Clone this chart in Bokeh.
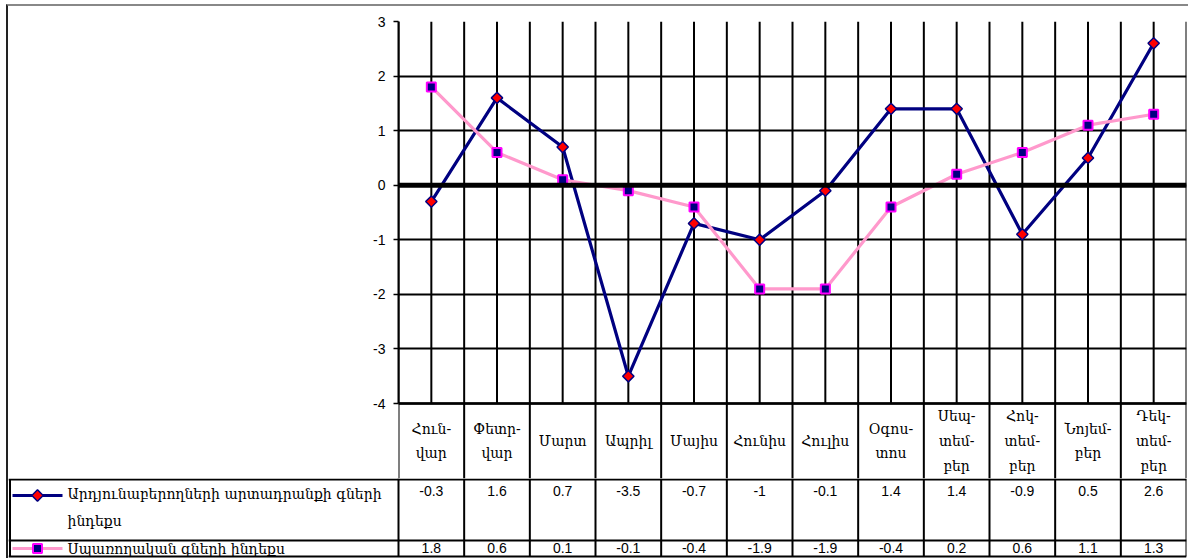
from bokeh.plotting import figure
from bokeh.models import Range1d, FixedTicker, Span, ColumnDataSource, PrintfTickFormatter
from bokeh.layouts import column, row
from bokeh.embed import file_html
from bokeh.resources import INLINE
from bokeh.core.properties import value
import numpy as np

# ---------------- data ----------------
months = ["Հուն-\nվար", "Փետր-\nվար", "Մարտ", "Ապրիլ", "Մայիս", "Հունիս",
          "Հուլիս", "Օգոս-\nտոս", "Սեպ-\nտեմ-\nբեր", "Հոկ-\nտեմ-\nբեր",
          "Նոյեմ-\nբեր", "Դեկ-\nտեմ-\nբեր"]
producer_idx = [-0.3, 1.6, 0.7, -3.5, -0.7, -1, -0.1, 1.4, 1.4, -0.9, 0.5, 2.6]
consumer_idx = [1.8, 0.6, 0.1, -0.1, -0.4, -1.9, -1.9, -0.4, 0.2, 0.6, 1.1, 1.3]
series_names = ["Արդյունաբերողների արտադրանքի գների\nինդեքս",
                "Սպառողական գների ինդեքս"]
y_ticks = [-4, -3, -2, -1, 0, 1, 2, 3]

# ---------------- layout constants (page pixels) ----------------
OX, OY, B = 6, 4, 2          # outer border position and width
CX, CY = OX + B, OY + B      # content origin
PAGE_W = 1188
FRAME_L, FRAME_R, FRAME_T, FRAME_B = 398, 1186, 21, 403
HEAD_B, ROW2_B, ROW3_B = 478, 540, 556
n = len(months)
W = PAGE_W - CX
UNIT = (FRAME_R - FRAME_L) / n
PX_Y = (FRAME_B - FRAME_T) / (max(y_ticks) - min(y_ticks))
Y_LOW = max(y_ticks) - (HEAD_B - FRAME_T) / PX_Y
NAVY = "#000080"
PINK = "#FF99CC"
MAGENTA = "#FF00FF"
SERIF = value("DejaVu Serif")
SANS = value("Liberation Sans")
GW = 2.0


def yv(page_y):
    return max(y_ticks) - (page_y - FRAME_T) / PX_Y


def px(page_x):
    return (page_x - FRAME_L) / UNIT


xs = [i + 0.5 for i in range(n)]
src = ColumnDataSource(dict(x=xs, m=months, a=producer_idx, b=consumer_idx,
                            at=[f"{v:g}" for v in producer_idx],
                            bt=[f"{v:g}" for v in consumer_idx]))

# ---------------- chart (with header row of the table) ----------------
p = figure(width=W, height=HEAD_B - CY, x_range=Range1d(0, n),
           y_range=Range1d(Y_LOW, max(y_ticks)),
           output_backend="svg", toolbar_location=None,
           min_border_left=FRAME_L - CX, min_border_right=PAGE_W - FRAME_R,
           min_border_top=FRAME_T - CY, min_border_bottom=0,
           x_axis_location=None, outline_line_color=None)
p.xgrid.visible = False
p.ygrid.grid_line_color = "black"
p.ygrid.grid_line_width = GW
p.ygrid.ticker = FixedTicker(ticks=y_ticks)
borders = list(range(n + 1))
p.segment(x0=borders, y0=[Y_LOW] * len(borders), x1=borders,
          y1=[max(y_ticks)] * len(borders), line_color="black", line_width=GW)
p.segment(x0=xs, y0=[min(y_ticks)] * n, x1=xs, y1=[max(y_ticks)] * n,
          line_color="black", line_width=GW)
p.yaxis.ticker = FixedTicker(ticks=y_ticks)
p.yaxis.formatter = PrintfTickFormatter(format="%d")
p.yaxis.bounds = (min(y_ticks), max(y_ticks))
p.yaxis.axis_line_width = 2
p.yaxis.axis_line_color = "black"
p.yaxis.major_tick_out = 5
p.yaxis.major_tick_in = 0
p.yaxis.major_tick_line_width = 1.5
p.yaxis.minor_tick_line_color = None
p.yaxis.major_label_text_font = "Liberation Sans"
p.yaxis.major_label_text_font_size = "14px"
p.yaxis.major_label_text_color = "black"
p.yaxis.major_label_standoff = 8
p.add_layout(Span(location=0, dimension="width", line_color="black", line_width=5))
p.add_layout(Span(location=min(y_ticks), dimension="width", line_color="black", line_width=2.5))

p.text(x="x", y=yv(440.5), text="m", source=src, text_font=SERIF,
       text_font_size="14px", text_align="center", text_baseline="middle",
       text_line_height=1.55, text_color="black")

p.line("x", "a", source=src, line_color=NAVY, line_width=3.2)
p.scatter("x", "a", source=src, marker="square", angle=np.pi / 4, size=8,
          fill_color="red", line_color=NAVY, line_width=1.5)
p.line("x", "b", source=src, line_color=PINK, line_width=3.2)
p.scatter("x", "b", source=src, marker="square", size=9,
          fill_color=NAVY, line_color=MAGENTA, line_width=2)

# ---------------- value rows of the table ----------------
TH = 558 - HEAD_B
X0 = -(FRAME_L - CX) / UNIT
t = figure(width=W, height=TH, x_range=Range1d(X0, n),
           y_range=Range1d(TH, 0), output_backend="svg", toolbar_location=None,
           min_border_left=0, min_border_right=PAGE_W - FRAME_R, min_border_top=0,
           min_border_bottom=0, x_axis_location=None, y_axis_location=None,
           outline_line_color=None)
t.xgrid.visible = False
t.ygrid.visible = False

r1, r2, r3 = 1, ROW2_B - HEAD_B, ROW3_B - HEAD_B
t.segment(x0=borders, y0=[0] * len(borders), x1=borders, y1=[r3] * len(borders),
          line_color="black", line_width=GW)
t.segment(x0=[px(8)] * 3, y0=[r1, r2, r3], x1=[n] * 3,
          y1=[r1, r2, r3], line_color="black", line_width=2)
t.segment(x0=[px(9.5)], y0=[r1], x1=[px(9.5)], y1=[r3],
          line_color="black", line_width=2)

t.text(x="x", y=490 - HEAD_B, text="at", source=src, text_font=SANS,
       text_font_size="14px", text_align="center", text_baseline="middle",
       text_color="black")
t.text(x="x", y=547 - HEAD_B, text="bt", source=src, text_font=SANS,
       text_font_size="14px", text_align="center", text_baseline="middle",
       text_color="black")

# legend keys inside the table
ky = [495 - HEAD_B, 548 - HEAD_B]
t.segment(x0=[px(12)], y0=[ky[0]], x1=[px(62)], y1=[ky[0]], line_color=NAVY, line_width=3.2)
t.scatter([px(37)], [ky[0]], marker="square", angle=np.pi / 4, size=8,
          fill_color="red", line_color=NAVY, line_width=1.5)
t.segment(x0=[px(12)], y0=[ky[1]], x1=[px(62)], y1=[ky[1]], line_color=PINK, line_width=3.2)
t.scatter([px(37)], [ky[1]], marker="square", size=9, fill_color=NAVY,
          line_color=MAGENTA, line_width=2)
t.text(x=[px(67)] * 2, y=[507 - HEAD_B, ky[1]], text=series_names, text_font=SERIF,
       text_font_size="14px", text_align="left", text_baseline="middle",
       text_line_height=1.65, text_color="black")

layout = column(p, row(t), spacing=0,
                styles={"margin-left": f"{OX}px", "margin-top": f"{OY}px",
                        "border-left": f"{B}px solid #222",
                        "border-top": f"{B}px solid #888"})
open("out.html", "w").write(file_html(layout, INLINE))
